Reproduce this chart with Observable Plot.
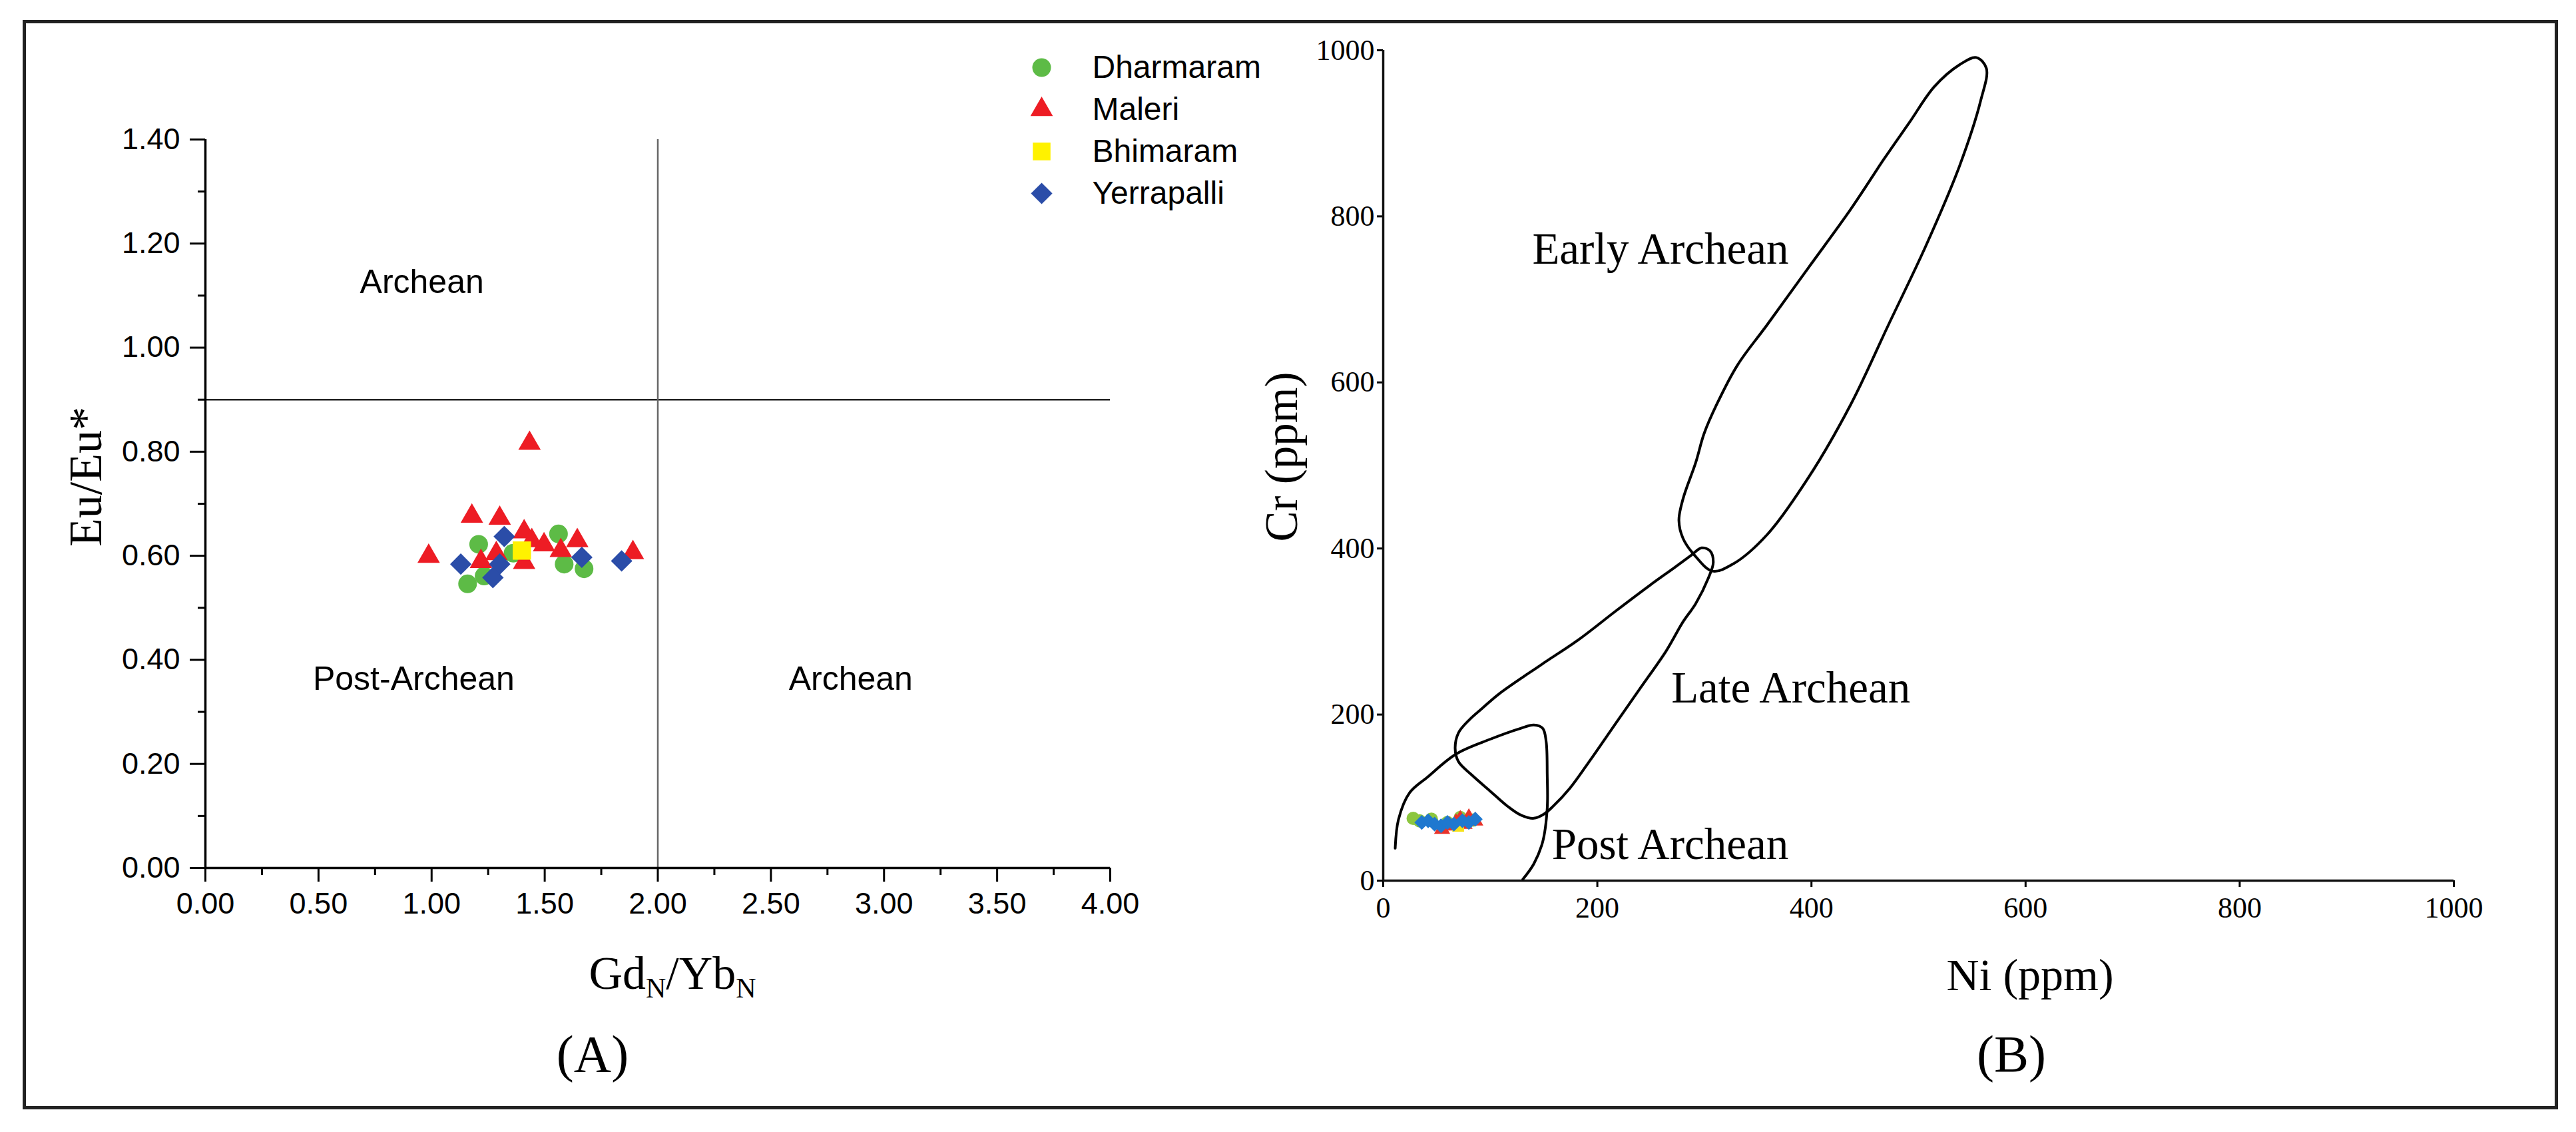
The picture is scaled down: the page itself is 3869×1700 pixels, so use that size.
<!DOCTYPE html>
<html><head><meta charset="utf-8">
<script src="https://cdn.jsdelivr.net/npm/d3@7"></script>
<script src="https://cdn.jsdelivr.net/npm/@observablehq/plot@0.6"></script>
<style>
html,body{margin:0;padding:0;background:#fff;}
#root{position:relative;width:3869px;height:1700px;overflow:hidden;background:#fff;}
.frame{position:absolute;left:34px;top:30px;width:3808px;height:1636px;border:5px solid #222;box-sizing:border-box;}
.holder{position:absolute;}
.serif{position:absolute;font-family:"Liberation Serif","Times New Roman",serif;color:#000;white-space:nowrap;line-height:1;}
.serif sub{font-size:0.6em;vertical-align:-0.3em;line-height:0;}
</style></head>
<body><div id="root">
<div class="frame"></div>
<div id="panelA" class="holder" style="left:0;top:0;"></div>
<div id="legend" class="holder" style="left:1500px;top:50px;"></div>
<div id="panelB" class="holder" style="left:1900px;top:0;"></div>
<div class="serif" style="left:129px;top:716px;font-size:70px;transform:translate(-50%,-50%) rotate(-90deg);">Eu/Eu*</div>
<div class="serif" style="left:1010px;top:1462px;font-size:70px;transform:translate(-50%,-50%);">Gd<sub>N</sub>/Yb<sub>N</sub></div>
<div class="serif" style="left:890px;top:1583px;font-size:78px;transform:translate(-50%,-50%);">(A)</div>
<div class="serif" style="left:1925px;top:686px;font-size:69px;transform:translate(-50%,-50%) rotate(-90deg);">Cr (ppm)</div>
<div class="serif" style="left:3049px;top:1464px;font-size:68px;transform:translate(-50%,-50%);">Ni (ppm)</div>
<div class="serif" style="left:3021px;top:1583px;font-size:78px;transform:translate(-50%,-50%);">(B)</div>
</div>
<script>
// ---------- Panel A data (GdN/YbN vs Eu/Eu*) ----------
const seriesNames = ["Dharmaram", "Maleri", "Bhimaram", "Yerrapalli"];
const dharGdYb = [1.208, 1.561, 1.159, 1.232, 1.586, 1.674, 1.36];
const dharEu   = [0.622, 0.642, 0.546, 0.561, 0.584, 0.575, 0.605];
const maleriGdYb = [1.433, 1.178, 1.301, 0.987, 1.409, 1.443, 1.497, 1.644, 1.571, 1.890, 1.286, 1.218, 1.409];
const maleriEu   = [0.816, 0.676, 0.672, 0.599, 0.646, 0.629, 0.621, 0.629, 0.610, 0.606, 0.604, 0.589, 0.587];
const bhimGdYb = [1.399];
const bhimEu   = [0.610];
const yerrGdYb = [1.129, 1.321, 1.301, 1.271, 1.664, 1.840];
const yerrEu   = [0.584, 0.637, 0.584, 0.558, 0.597, 0.590];

const xMajorA = [0, 0.5, 1, 1.5, 2, 2.5, 3, 3.5, 4];
const xMinorA = [0.25, 0.75, 1.25, 1.75, 2.25, 2.75, 3.25, 3.75];
const yMajorA = [0, 0.2, 0.4, 0.6, 0.8, 1.0, 1.2, 1.4];
const yMinorA = [0.1, 0.3, 0.5, 0.7, 0.9, 1.1, 1.3];
const boundaryGdYb = [2.0];
const boundaryEu = [0.9];
const regionTextA = ["Archean", "Post-Archean", "Archean"];
const regionGdYb  = [0.957, 0.921, 2.853];
const regionEu    = [1.126, 0.363, 0.363];

// ---------- Panel B data (Ni vs Cr) ----------
const dharNi = [28, 34, 45, 60, 72, 84];
const dharCr = [75, 72, 74, 70, 76, 73];
const maleriNi = [55, 62, 68, 72, 76, 80, 86];
const maleriCr = [62, 66, 70, 74, 68, 76, 72];
const bhimNi = [70];
const bhimCr = [66];
const yerrNi = [36, 42, 48, 54, 60, 66, 74, 80, 86];
const yerrCr = [70, 72, 68, 66, 70, 68, 72, 70, 74];

const earlyNi = [307.5, 327, 358.4, 397.5, 436.6, 471.8, 507, 538.3, 558, 563.4, 554, 538.3, 514.9, 491.4, 467.9, 436.6, 397.5, 358.4, 331, 311.4, 299.7, 291.9, 280.1, 276.2, 280.1, 291.9];
const earlyCr = [372.8, 381.5, 416.4, 486, 573.2, 669, 764.8, 860.6, 939, 978.2, 991.3, 982.6, 956.4, 912.9, 869.3, 808.4, 738.7, 669, 621, 573.2, 538.3, 503.5, 460, 433.8, 412, 390.2];
const lateNi = [67.2, 70.3, 80.7, 92.3, 108, 147.1, 182.3, 217.5, 248.8, 272.3, 287.9, 297.3, 305.2, 308.3, 303.6, 291.9, 280.1, 264.5, 241, 217.5, 194, 174.5, 158.8, 150, 140.7, 128.3, 115.9, 99.3, 82.7, 70.3];
const lateCr = [159.3, 178, 194, 207.3, 224.7, 259.6, 290, 325, 355.4, 377.2, 392, 400.7, 397.2, 383.3, 364, 333.6, 311.8, 277, 233.4, 190, 146.3, 111.5, 89.7, 80, 75.1, 79.1, 89.8, 108.5, 127.3, 143.3];
const postNi = [11.2, 14.3, 24.7, 41.2, 68.2, 99.3, 128.3, 140.7, 149, 152.2, 153.2, 153.2, 149, 140.7, 130.4];
const postCr = [39, 73.8, 105.9, 124.5, 152.6, 170, 183.4, 187.4, 183.4, 167.4, 127.3, 87.2, 47, 20.3, 1.6];

const ticksB = [0, 200, 400, 600, 800, 1000];
const regionTextB = ["Early Archean", "Late Archean", "Post Archean"];
const regionNiB = [259, 380.7, 268];
const regionCrB = [760.5, 231.7, 43.6];

// ---------- helpers ----------
const zip = (xs, ys) => xs.map((x, i) => ({x, y: ys[i]}));
const colorsA = {Dharmaram: "#5DBB46", Maleri: "#ED1C24", Bhimaram: "#FFF200", Yerrapalli: "#2B4DA8"};
const colorsB = {Dharmaram: "#8CC63F", Maleri: "#E8332A", Bhimaram: "#F7E21B", Yerrapalli: "#1F78CF"};

// ---------- Panel A ----------
const panelA = Plot.plot({
  width: 1800, height: 1420,
  marginLeft: 308, marginTop: 209, marginRight: 133, marginBottom: 117,
  x: {domain: [0, 4], label: null},
  y: {domain: [0, 1.4], label: null},
  style: {fontFamily: "'Liberation Sans', Arial, sans-serif", fontSize: "45px", color: "#000", background: "transparent", maxWidth: "none", overflow: "visible"},
  marks: [
    Plot.ruleY(boundaryEu, {stroke: "#222", strokeWidth: 2.5}),
    Plot.ruleX(boundaryGdYb, {stroke: "#666", strokeWidth: 2.5}),
    Plot.axisX({ticks: xMinorA, tickSize: 11, tickFormat: () => "", strokeWidth: 3, label: null}),
    Plot.axisX({ticks: xMajorA, tickSize: 21, tickPadding: 16, tickFormat: d => d.toFixed(2), strokeWidth: 3, label: null}),
    Plot.axisY({ticks: yMinorA, tickSize: 11, tickFormat: () => "", strokeWidth: 3, label: null}),
    Plot.axisY({ticks: yMajorA, tickSize: 23, tickPadding: 15, tickFormat: d => d.toFixed(2), strokeWidth: 3, label: null}),
    Plot.ruleY([0], {stroke: "#000", strokeWidth: 3.5}),
    Plot.ruleX([0], {stroke: "#000", strokeWidth: 3.5}),
    Plot.text(regionTextA, {x: (d, i) => regionGdYb[i], y: (d, i) => regionEu[i], text: d => d, fontSize: 50, fill: "#000"}),
    Plot.dot(zip(dharGdYb, dharEu), {x: "x", y: "y", symbol: "circle", r: 14, fill: colorsA.Dharmaram}),
    Plot.dot(zip(maleriGdYb, maleriEu), {x: "x", y: "y", symbol: "triangle", r: 12.5, fill: colorsA.Maleri}),
    Plot.dot(zip(bhimGdYb, bhimEu), {x: "x", y: "y", symbol: "square", r: 15.5, fill: colorsA.Bhimaram}),
    Plot.dot(zip(yerrGdYb, yerrEu), {x: "x", y: "y", symbol: "diamond2", r: 14.5, fill: colorsA.Yerrapalli})
  ]
});
document.getElementById("panelA").appendChild(panelA);

// ---------- Legend ----------
const symbolsA = ["circle", "triangle", "square", "diamond2"];
const legendR = [14, 12.5, 15, 14.5];
const legend = Plot.plot({
  width: 420, height: 280, margin: 0,
  x: {domain: [0, 1], range: [64, 140], axis: null},
  y: {type: "point", domain: seriesNames, range: [50, 240], padding: 0, axis: null},
  style: {fontFamily: "'Liberation Sans', Arial, sans-serif", fontSize: "48px", color: "#000", background: "transparent", maxWidth: "none", overflow: "visible"},
  marks: [
    ...seriesNames.map((s, i) => Plot.dot([s], {x: 0, y: d => d, symbol: symbolsA[i], r: legendR[i], fill: colorsA[s]})),
    Plot.text(seriesNames, {x: 1, y: d => d, text: d => d, textAnchor: "start", fill: "#000"})
  ]
});
document.getElementById("legend").appendChild(legend);

// ---------- Panel B ----------
const panelB = Plot.plot({
  width: 1940, height: 1420,
  marginLeft: 177, marginTop: 75, marginRight: 155, marginBottom: 98,
  x: {domain: [0, 1000], label: null},
  y: {domain: [0, 1000], label: null},
  style: {fontFamily: "'Liberation Serif', 'Times New Roman', serif", fontSize: "44px", color: "#000", background: "transparent", maxWidth: "none", overflow: "visible"},
  marks: [
    Plot.axisX({ticks: ticksB, tickSize: 10, tickPadding: 14, tickFormat: d => String(d), strokeWidth: 3, label: null}),
    Plot.axisY({ticks: ticksB, tickSize: 9, tickPadding: 4, tickFormat: d => String(d), strokeWidth: 3, label: null}),
    Plot.ruleY([0], {stroke: "#111", strokeWidth: 3.5}),
    Plot.ruleX([0], {stroke: "#111", strokeWidth: 3.5}),
    Plot.line(zip(earlyNi, earlyCr), {x: "x", y: "y", curve: "catmull-rom-closed", stroke: "#000", strokeWidth: 4}),
    Plot.line(zip(lateNi, lateCr), {x: "x", y: "y", curve: "catmull-rom-closed", stroke: "#000", strokeWidth: 4}),
    Plot.line(zip(postNi, postCr), {x: "x", y: "y", curve: "catmull-rom", stroke: "#000", strokeWidth: 4}),
    Plot.text(regionTextB, {x: (d, i) => regionNiB[i], y: (d, i) => regionCrB[i], text: d => d, fontSize: 67, fill: "#000"}),
    Plot.dot(zip(dharNi, dharCr), {x: "x", y: "y", symbol: "circle", r: 10, fill: colorsB.Dharmaram}),
    Plot.dot(zip(maleriNi, maleriCr), {x: "x", y: "y", symbol: "triangle", r: 9, fill: colorsB.Maleri}),
    Plot.dot(zip(bhimNi, bhimCr), {x: "x", y: "y", symbol: "square", r: 10, fill: colorsB.Bhimaram}),
    Plot.dot(zip(yerrNi, yerrCr), {x: "x", y: "y", symbol: "diamond2", r: 10, fill: colorsB.Yerrapalli})
  ]
});
document.getElementById("panelB").appendChild(panelB);
</script>
</body></html>
